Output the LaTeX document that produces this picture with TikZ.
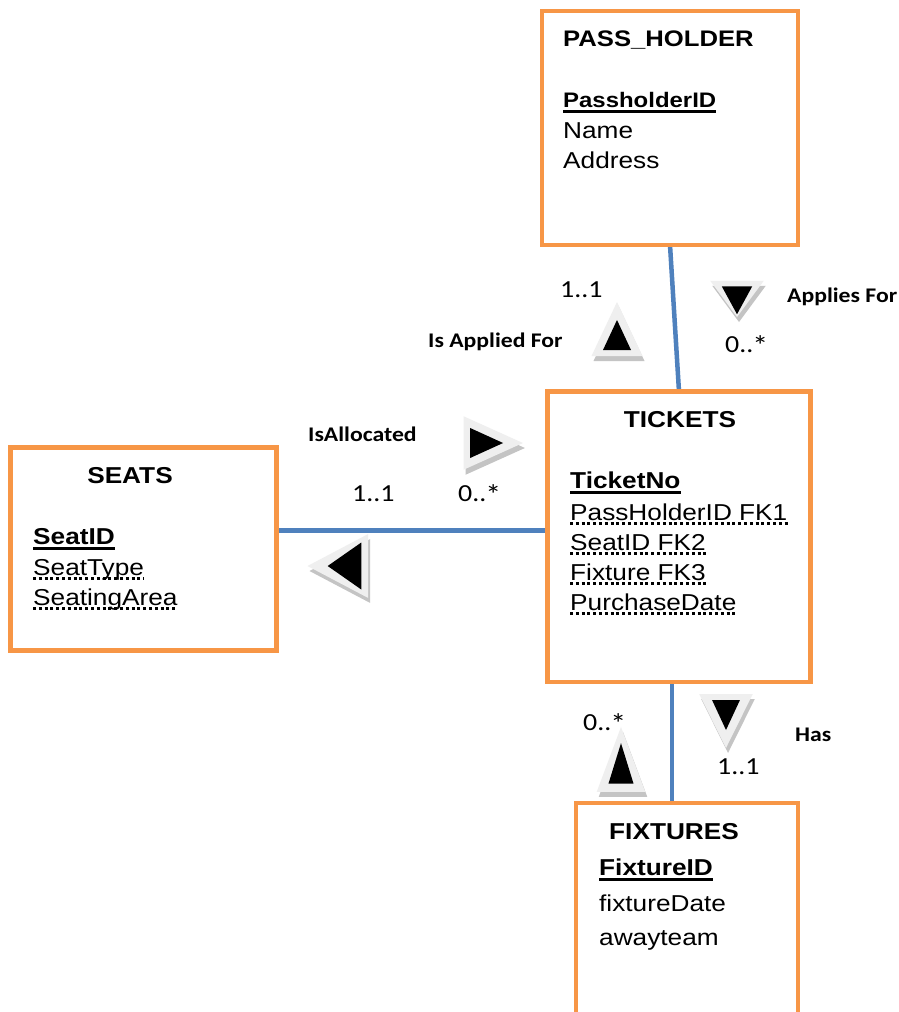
\documentclass[tikz,border=0pt]{standalone}
\usepackage{fontspec}
\setmainfont{Liberation Sans}[FakeStretch=1.14]
\newfontfamily\calfont{Carlito}[FakeStretch=1.14]
\usetikzlibrary{backgrounds}
\definecolor{eorange}{HTML}{F79646}
\definecolor{rblue}{HTML}{4F81BD}
\definecolor{trilight}{HTML}{EFEFEF}
\definecolor{trishadow}{HTML}{C4C4C4}
\tikzset{
 ent/.style={draw=eorange, line width=4.5pt, fill=white, inner sep=0pt, outer sep=0pt, anchor=north west},
 ttl/.style={font=\bfseries\fontsize{23}{27}\selectfont, inner sep=0pt},
 attr/.style={font=\fontsize{23}{27}\selectfont, inner sep=0pt, anchor=base west},
 pk/.style={font=\bfseries\fontsize{23}{27}\selectfont, inner sep=0pt, anchor=base west},
 lbl/.style={font=\calfont\bfseries\fontsize{20.8}{24}\selectfont, inner sep=0pt, anchor=base west},
 mult/.style={font=\calfont\fontsize{24.5}{28}\selectfont, inner sep=0pt, anchor=base west},
 rel/.style={draw=rblue, line width=4.5pt},
 pkline/.style={line width=3pt},
 fkline/.style={line width=3pt, dash pattern=on 3pt off 2.8pt},
}
% #1 cx, #2 cy, #3 rotation, #4 xscale, #5 yscale, #6 outer apex, #7 inner half width
\newcommand\relarrow[7]{%
 \begin{scope}[shift={(#1,#2)}]
  \fill[trishadow, shift={(2,5)}, rotate=#3, xscale=#4, yscale=#5] (0,-#6) -- (-25.5,25) -- (25.5,25) -- cycle;
  \fill[trilight, rotate=#3, xscale=#4, yscale=#5] (0,-#6) -- (-25.5,25) -- (25.5,25) -- cycle;
  \fill[black, rotate=#3, xscale=#4, yscale=#5] (0,-11) -- (-#7,19) -- (#7,19) -- cycle;
 \end{scope}}
\newcommand\pkul[1]{\draw[pkline] ([yshift=-4.5pt]#1.base west) -- ([yshift=-4.5pt]#1.base east);}
\newcommand\fkul[1]{\draw[fkline] ([yshift=-3.3pt]#1.base west) -- ([yshift=-3.3pt]#1.base east);}
\newcommand\bigstar{\kern-1pt\raisebox{-3pt}{\fontsize{28}{28}\selectfont *}}
\begin{document}
\begin{tikzpicture}[x=1pt,y=-1pt]
\useasboundingbox (0,0) rectangle (898,1012);
\clip (0,0) rectangle (898,1012);

% entity boxes
\node[ent, minimum width=256pt, minimum height=234pt] (ph) at (542,11) {};
\node[ent, minimum width=263pt, minimum height=290.5pt] (tk) at (547.5,391.5) {};
\node[ent, minimum width=266pt, minimum height=203pt] (se) at (10.5,447.5) {};
\node[ent, minimum width=222pt, minimum height=260pt] (fx) at (576,803) {};

\coordinate (yl) at (0,530.5);
\coordinate (xl) at (672,0);

\begin{pgfonlayer}{background}
\fill[white] (0,0) rectangle (898,1012);
\draw[rel] (ph.south) -- (tk.north);
\draw[rel] (se.east |- yl) -- (tk.west |- yl);
\draw[rel] (tk.south -| xl) -- (fx.north -| xl);
\end{pgfonlayer}

% PASS_HOLDER
\node[ttl, font=\bfseries\fontsize{22.5}{27}\selectfont, anchor=base west] (pht) at (563,46.7) {PASS\_HOLDER};
\node[pk, font=\bfseries\fontsize{21}{25}\selectfont] (phk) at (563,107.3) {PassholderID};
\pkul{phk}
\node[attr] (pha1) at (563,138.3) {Name};
\node[attr] (pha2) at (563,168.3) {Address};

% TICKETS
\node[ttl, anchor=base] (tkt) at (680,427.7) {TICKETS};
\node[pk] (tkk) at (570,488.3) {TicketNo};
\pkul{tkk}
\node[attr] (tka1) at (570,520) {PassHolderID FK1};
\node[attr] (tka2) at (570,550) {SeatID FK2};
\node[attr] (tka3) at (570,580) {Fixture FK3};
\node[attr] (tka4) at (570,610) {PurchaseDate};
\fkul{tka1}\fkul{tka2}\fkul{tka3}\fkul{tka4}

% SEATS
\node[ttl, anchor=base] (set) at (130,483.3) {SEATS};
\node[pk] (sek) at (33,544) {SeatID};
\pkul{sek}
\node[attr] (sea1) at (33,575) {SeatType};
\node[attr] (sea2) at (33,605) {SeatingArea};
\fkul{sea1}\fkul{sea2}

% FIXTURES
\node[ttl, anchor=base west] (fxt) at (609,839.3) {FIXTURES};
\node[pk] (fxk) at (599,875) {FixtureID};
\pkul{fxk}
\node[attr] (fxa1) at (599,911) {fixtureDate};
\node[attr] (fxa2) at (599,945.7) {awayteam};

% direction triangles
\relarrow{617}{331}{0}{1}{1}{29}{14}
\relarrow{737}{304}{180}{1.05}{0.93}{14}{14.5}
\relarrow{491}{443}{-90}{1.05}{1.1}{29}{14.3}
\relarrow{340}{566}{90}{1.25}{1.12}{29}{18.8}
\relarrow{621}{758}{0}{0.95}{1.35}{23}{13.2}
\relarrow{726}{719}{180}{1.05}{1}{29}{13.3}

% relationship labels
\node[mult] (m1) at (560,297) {1..1};
\node[lbl] (l1) at (428,347) {Is Applied For};
\node[lbl] (l2) at (787,302) {Applies For};
\node[mult] (m2) at (725,352) {0..\bigstar};
\node[lbl] (l3) at (308,441) {IsAllocated};
\node[mult] (m3) at (352,501) {1..1};
\node[mult] (m4) at (458,501) {0..\bigstar};
\node[mult] (m5) at (583,730) {0..\bigstar};
\node[lbl] (l4) at (795,741) {Has};
\node[mult] (m6) at (717,774) {1..1};
\end{tikzpicture}
\end{document}
